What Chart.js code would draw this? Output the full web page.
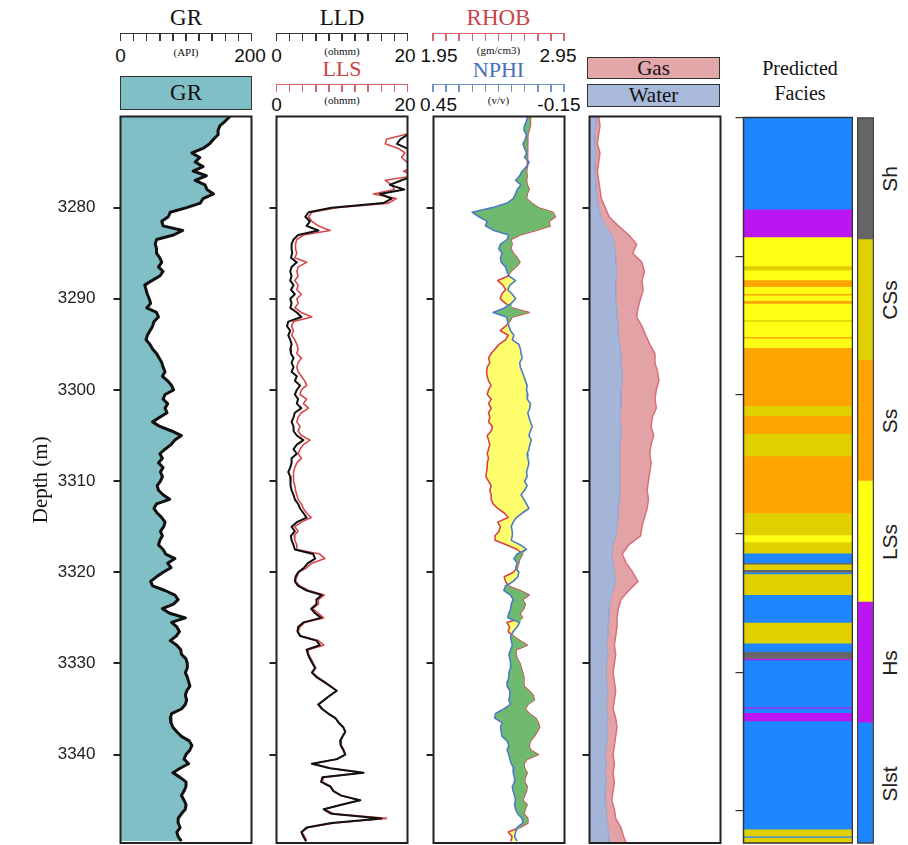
<!DOCTYPE html>
<html>
<head>
<meta charset="utf-8">
<script src="https://cdn.jsdelivr.net/npm/chart.js@4.4.0/dist/chart.umd.min.js"></script>
<style>
  body { margin: 0; background: #fff; }
  #page { position: relative; width: 908px; height: 845px; overflow: hidden; color: #111; }
  #page canvas { position: absolute; }
  .t { position: absolute; transform: translate(-50%, -50%); white-space: nowrap; line-height: 1; }
  .serif { font-family: 'Liberation Serif', serif; }
  .sans { font-family: 'Liberation Sans', sans-serif; }
  .box { position: absolute; box-sizing: border-box; border: 1px solid #333; display: flex; align-items: center; justify-content: center; font-family: 'Liberation Serif', serif; color: #111; }
  .rot { transform: translate(-50%, -50%) rotate(-90deg); }
</style>
</head>
<body>
<div id="page">
  <!-- GR header -->
  <div class="t serif" style="left:186px;top:17px;font-size:23px">GR</div>
  <div class="t sans" style="left:120.5px;top:55px;font-size:19px">0</div>
  <div class="t sans" style="left:250px;top:55px;font-size:19px">200</div>
  <div class="t serif" style="left:186px;top:52px;font-size:11px">(API)</div>
  <div class="box" style="left:120px;top:76px;width:132px;height:34px;background:#80BFC5;font-size:23px">GR</div>

  <!-- LLD / LLS header -->
  <div class="t serif" style="left:342px;top:17px;font-size:23px">LLD</div>
  <div class="t sans" style="left:276.5px;top:55px;font-size:19px">0</div>
  <div class="t sans" style="left:405px;top:55px;font-size:19px">20</div>
  <div class="t serif" style="left:342px;top:51px;font-size:11px">(ohmm)</div>
  <div class="t serif" style="left:342px;top:69px;font-size:22px;color:#CC4149">LLS</div>
  <div class="t sans" style="left:276.5px;top:104px;font-size:19px">0</div>
  <div class="t sans" style="left:405px;top:104px;font-size:19px">20</div>
  <div class="t serif" style="left:342px;top:100px;font-size:11px">(ohmm)</div>

  <!-- RHOB / NPHI header -->
  <div class="t serif" style="left:498.5px;top:17px;font-size:23px;color:#C8434A">RHOB</div>
  <div class="t sans" style="left:439px;top:55px;font-size:19px">1.95</div>
  <div class="t sans" style="left:558px;top:55px;font-size:19px">2.95</div>
  <div class="t serif" style="left:498.5px;top:50px;font-size:11px">(gm/cm3)</div>
  <div class="t serif" style="left:498.5px;top:70px;font-size:22px;color:#4670B8">NPHI</div>
  <div class="t sans" style="left:438.5px;top:104px;font-size:19px">0.45</div>
  <div class="t sans" style="left:559px;top:104px;font-size:19px">-0.15</div>
  <div class="t serif" style="left:498.5px;top:100px;font-size:11px">(v/v)</div>

  <!-- Gas / Water header -->
  <div class="box" style="left:587px;top:57px;width:133px;height:22px;background:#E3A6A9;font-size:21px">Gas</div>
  <div class="box" style="left:587px;top:84px;width:133px;height:23px;background:#A8B9DA;font-size:21px">Water</div>

  <!-- Facies header -->
  <div class="t serif" style="left:800px;top:68px;font-size:20px">Predicted</div>
  <div class="t serif" style="left:800px;top:93px;font-size:20px">Facies</div>

  <canvas id="grChart" width="254" height="735" style="left:0;top:110px"></canvas>
  <canvas id="resChart" width="146" height="735" style="left:264px;top:110px"></canvas>
  <canvas id="denChart" width="146" height="735" style="left:420.5px;top:110px"></canvas>
  <canvas id="fluidChart" width="146" height="735" style="left:576.5px;top:110px"></canvas>
  <canvas id="faciesChart" width="118" height="735" style="left:735px;top:110px"></canvas>
  <canvas id="legendChart" width="17" height="735" style="left:857px;top:110px"></canvas>
</div>

<script>
// depth sampling of the log curves (m)
const DEPTH_TOP = 3270;
const DEPTH_BASE = 3349.7;
const STEP = 0.5;
const depthTicks = [3280, 3290, 3300, 3310, 3320, 3330, 3340];

// GR (API), one value every 0.5 m from 3270
const gr = [
  167,160,152,149,149,142,136,126,109,121,
  114,126,111,131,114,129,132,142,126,122,
  101,76,73,63,65,95,81,55,53,55,
  55,60,63,58,65,60,48,37,39,41,
  44,46,40,55,58,51,49,45,41,39,
  45,49,55,59,63,65,68,64,72,78,
  81,68,65,72,68,71,60,49,60,78,
  93,83,77,68,60,64,58,65,61,64,
  61,56,58,65,75,55,51,56,63,68,
  66,61,64,60,58,65,69,83,72,77,
  65,55,46,49,68,83,88,81,64,75,
  99,78,86,90,85,76,86,92,93,100,
  102,102,99,102,104,106,101,99,101,99,
  93,78,76,77,80,86,93,105,109,106,
  100,97,104,91,80,91,100,100,97,93,
  97,100,99,93,88,88,91,86,88,93
];

// LLD and LLS (ohmm)
const lld = [
  22,22,22,22,20,18.9,18.4,19.9,21,21,
  21,21,21,21,19.1,17.3,19.5,15.8,17.6,16.3,
  8.4,4.9,4.4,5.1,4.6,6.4,3.3,2.6,2.3,2.3,
  2.4,2.2,3.1,2.3,2.1,2.3,2.1,2.6,2.2,2.8,
  2.1,2.3,2.1,3.1,3.8,1.8,1.6,2.1,1.8,2.1,
  2.3,2.1,2.2,2.6,2.3,2.6,2.3,3.1,2.8,3.6,
  3.1,2.8,3.3,3.1,3.8,2.8,2.6,2.3,2.6,2.6,
  3.1,4.1,3.1,2.6,3.1,2.3,2.3,2.1,1.8,2.1,
  2.1,2.2,2.3,2.6,2.8,3.3,3.6,4.1,4.6,3.1,
  2.3,2.8,2.2,2.3,2.6,2.8,5.6,5.9,4.8,4.2,
  3.3,2.9,2.8,3.3,4.6,6.9,6.1,6.1,5.3,5.9,
  6.8,4.1,3.3,3.2,3.6,6.1,6.6,4.6,4.8,5.1,
  5.5,5.9,5.4,6.1,7.2,8.2,9.2,8.2,7.3,6.4,
  7.0,7.9,9.0,9.5,10.2,10.5,10.1,9.7,9.8,10.2,
  10.5,9.2,5.4,8.2,13.3,7.0,6.8,8.2,8.7,9.9,
  12.8,9.9,7.2,8.4,16.0,8.4,4.6,3.8,4.1,4.5
];
const lls = [
  22,22,22,22,19.5,16.8,16.6,18.6,19.6,19.1,
  19.9,21,19.4,21,16.6,17.6,18.0,14.8,18.3,17.1,
  9.2,5.4,4.9,5.4,6.4,8.2,4.1,3.1,2.9,2.9,
  3.1,2.8,4.6,3.3,3.1,3.3,2.8,3.3,3.1,3.8,
  3.1,3.3,2.8,3.8,5.4,2.6,2.3,2.6,2.3,2.8,
  3.1,3.3,3.1,3.8,3.3,3.1,3.3,3.8,4.3,4.6,
  3.8,3.6,4.6,4.1,4.9,3.8,3.3,3.1,3.6,3.3,
  3.8,5.1,4.1,3.6,3.3,3.8,3.1,2.8,2.6,2.6,
  2.6,2.8,2.9,3.1,3.3,3.8,4.1,4.6,5.3,3.8,
  2.8,3.3,2.7,2.8,3.1,3.1,6.6,7.4,5.4,4.6,
  3.4,3.1,2.9,3.6,4.9,7.3,6.4,6.4,5.5,6.4,
  7.2,4.3,3.6,3.3,3.7,6.4,7.2,4.8,4.9,5.3,
  5.6,6.0,5.5,6.3,7.3,8.3,9.2,8.2,7.3,6.3,
  6.9,7.9,9.0,9.5,10.2,10.5,10.1,9.8,9.9,10.3,
  10.5,9.3,5.6,8.2,13.0,7.2,7.0,8.3,8.7,9.9,
  12.5,9.9,7.3,8.7,16.8,8.9,4.8,3.9,4.3,4.6
];

// RHOB (g/cm3) and NPHI (v/v)
const rhob = [
  2.69,2.69,2.69,2.68,2.67,2.665,2.67,2.67,2.665,2.665,
  2.67,2.665,2.66,2.665,2.66,2.665,2.68,2.665,2.66,2.70,
  2.75,2.86,2.88,2.83,2.84,2.73,2.61,2.54,2.55,2.54,
  2.56,2.59,2.61,2.58,2.54,2.52,2.44,2.48,2.50,2.47,
  2.46,2.50,2.55,2.68,2.55,2.53,2.50,2.46,2.52,2.50,
  2.45,2.42,2.39,2.37,2.38,2.36,2.355,2.36,2.37,2.39,
  2.37,2.36,2.39,2.37,2.39,2.37,2.38,2.37,2.40,2.39,
  2.36,2.37,2.38,2.37,2.36,2.37,2.36,2.36,2.355,2.35,
  2.37,2.39,2.38,2.39,2.39,2.405,2.44,2.49,2.52,2.44,
  2.46,2.45,2.42,2.42,2.51,2.59,2.63,2.61,2.60,2.59,
  2.56,2.49,2.50,2.52,2.61,2.68,2.63,2.65,2.64,2.61,
  2.63,2.51,2.53,2.52,2.56,2.61,2.665,2.58,2.58,2.59,
  2.61,2.62,2.63,2.64,2.64,2.64,2.68,2.71,2.72,2.67,
  2.65,2.68,2.73,2.75,2.76,2.74,2.72,2.69,2.68,2.69,
  2.75,2.665,2.64,2.645,2.665,2.65,2.645,2.665,2.66,2.645,
  2.63,2.665,2.65,2.64,2.67,2.67,2.61,2.52,2.55,2.54
];
const nphi = [
  0.018,0.024,0.033,0.036,0.024,0.030,0.040,0.033,0.024,0.033,
  0.012,0.024,0.044,0.055,0.074,0.049,0.067,0.074,0.085,0.113,
  0.181,0.273,0.242,0.204,0.212,0.173,0.105,0.113,0.143,0.151,
  0.136,0.143,0.140,0.120,0.113,0.105,0.074,0.100,0.110,0.089,
  0.074,0.094,0.125,0.177,0.116,0.110,0.105,0.097,0.082,0.089,
  0.059,0.052,0.049,0.044,0.055,0.052,0.044,0.036,0.029,0.021,
  0.024,0.018,0.021,0.006,0.009,0.018,0.013,0.006,-0.002,0.006,
  0.013,0.002,0.009,0.013,0.021,0.018,0.013,0.018,0.024,0.021,
  0.033,0.021,0.033,0.049,0.036,0.024,0.013,0.044,0.070,0.085,
  0.094,0.089,0.089,0.094,0.052,0.024,0.067,0.082,0.067,0.074,
  0.059,0.064,0.085,0.120,0.128,0.097,0.085,0.094,0.097,0.105,
  0.110,0.055,0.067,0.085,0.097,0.094,0.089,0.097,0.105,0.100,
  0.097,0.097,0.105,0.105,0.110,0.113,0.100,0.100,0.105,0.097,
  0.128,0.166,0.170,0.136,0.143,0.140,0.136,0.113,0.105,0.113,
  0.105,0.100,0.094,0.082,0.085,0.079,0.079,0.089,0.085,0.079,
  0.074,0.079,0.074,0.064,0.044,0.040,0.067,0.074,0.079,0.067
];

// Gas / Water track, one value every 1 m from 3270 (fraction of track)
const waterEdge = [
  .05,.05,.04,.04,.05,.04,.04,.05,.05,.06,
  .07,.09,.12,.17,.19,.20,.20,.21,.20,.20,
  .20,.21,.21,.22,.22,.23,.24,.24,.25,.25,
  .24,.24,.24,.23,.24,.24,.23,.23,.23,.23,
  .23,.23,.23,.22,.22,.21,.20,.18,.17,.18,
  .19,.20,.18,.16,.15,.15,.14,.14,.13,.14,
  .13,.13,.13,.14,.13,.13,.14,.13,.14,.13,
  .12,.13,.12,.13,.12,.12,.13,.13,.14,.15,.15
];
const gasEdge = [
  .07,.08,.07,.06,.08,.07,.06,.07,.08,.09,
  .12,.15,.22,.30,.36,.33,.40,.42,.40,.41,
  .39,.37,.36,.40,.43,.46,.50,.50,.52,.53,
  .51,.50,.51,.48,.47,.49,.47,.46,.47,.46,
  .45,.44,.45,.44,.42,.40,.39,.30,.25,.28,
  .33,.37,.30,.24,.22,.21,.21,.20,.19,.20,
  .19,.18,.19,.20,.19,.18,.20,.21,.20,.19,
  .18,.19,.18,.19,.18,.17,.19,.20,.24,.26,.29
];

// Predicted facies intervals (own depth scale of the facies column)
const faciesTop = [
  3270.0,3276.6,3278.6,3280.7,3281.0,3281.7,3282.2,3282.7,3282.8,3283.2,
  3283.4,3284.6,3284.7,3285.8,3285.9,3286.6,3290.8,3291.5,3292.8,3294.4,
  3298.5,3300.1,3300.6,3301.4,3302.1,3302.2,3302.6,3302.8,3302.9,3304.4,
  3306.4,3307.9,3308.5,3309.0,3309.1,3312.5,3312.6,3312.9,3313.5,3321.3,
  3321.8,3321.9
];
const faciesCode = [
  'Slst','Hs','LSs','CSs','LSs','Ss','LSs','Ss','LSs','Ss',
  'LSs','CSs','LSs','Ss','LSs','Ss','CSs','Ss','CSs','Ss',
  'CSs','LSs','CSs','Slst','Sh','CSs','Sh','Slst','CSs','Slst',
  'CSs','Slst','Sh','Hs','Slst','Hs','Slst','Hs','Slst','CSs',
  'Slst','CSs'
];
const faciesBase = 3322.3;
const faciesTicks = [3270, 3280, 3290, 3300, 3310, 3320];
const faciesLegend = ['Sh', 'CSs', 'Ss', 'LSs', 'Hs', 'Slst'];
const faciesColor = { Sh: '#666666', CSs: '#E0D000', Ss: '#FFA500', LSs: '#FFFF14', Hs: '#BB16F2', Slst: '#1E87FF' };

// header scale bars
const rulers = [
  { left: 120.5, top: 33, color: '#333' },
  { left: 276.5, top: 33, color: '#333' },
  { left: 276.5, top: 84, color: '#D9646B' },
  { left: 433, top: 33, color: '#D9646B' },
  { left: 433, top: 84, color: '#6F93CF' }
];
const page = document.getElementById('page');
rulers.forEach(r => {
  const bar = document.createElement('div');
  bar.style.cssText = `position:absolute;left:${r.left}px;top:${r.top}px;width:131px;height:0;border-top:1.5px solid ${r.color}`;
  for (let i = 0; i <= 10; i++) {
    const tk = document.createElement('div');
    tk.style.cssText = `position:absolute;left:${i * 13.1 - 0.75}px;top:-1px;width:1.5px;height:8px;background:${r.color}`;
    bar.appendChild(tk);
  }
  page.appendChild(bar);
});
faciesLegend.forEach((name, i) => {
  const d = document.createElement('div');
  d.className = 't sans rot';
  d.style.cssText = `left:889px;top:${178.5 + i * 121}px;font-size:21px;color:#222`;
  d.textContent = name;
  page.appendChild(d);
});

// frame around each plot area
Chart.register({
  id: 'box',
  afterDraw(chart, args, opts) {
    const a = chart.chartArea, ctx = chart.ctx;
    ctx.save();
    ctx.strokeStyle = opts.color || '#222';
    ctx.lineWidth = opts.width || 2;
    ctx.strokeRect(a.left, a.top, a.right - a.left, a.bottom - a.top);
    ctx.restore();
  }
});

const depth = gr.map((_, i) => DEPTH_TOP + i * STEP);
const depth1m = waterEdge.map((_, i) => DEPTH_TOP + i);
const pts = (vals, d) => vals.map((v, i) => ({ x: v, y: d[i] }));

function depthAxis(width, labels, extra) {
  return Object.assign({
    type: 'linear', reverse: true, min: DEPTH_TOP, max: DEPTH_BASE,
    afterBuildTicks: s => { s.ticks = depthTicks.map(v => ({ value: v })); },
    afterFit: s => { s.width = width; s.paddingTop = 0; s.paddingBottom = 0; },
    ticks: { display: labels, color: '#222', padding: 18, font: { family: 'Liberation Sans', size: 17 },
             callback: v => String(v) },
    grid: { drawOnChartArea: false, drawTicks: true, tickLength: 7, color: '#222', lineWidth: 2 },
    border: { display: false }
  }, extra || {});
}

function trackOptions(xScales, yAxis) {
  return {
    responsive: false,
    animation: false,
    indexAxis: 'y',
    layout: { padding: { top: 6.5, bottom: 2, right: 2.5, left: 0 } },
    plugins: { legend: { display: false }, tooltip: { enabled: false }, box: { width: 2, color: '#222' } },
    elements: { point: { radius: 0 }, line: { tension: 0, borderJoinStyle: 'round' } },
    datasets: { line: { clip: 0 } },
    scales: Object.assign({ y: yAxis }, xScales)
  };
}

// Track 1: GR
new Chart(document.getElementById('grChart'), {
  type: 'line',
  data: {
    datasets: [{
      data: pts(gr, depth), borderColor: '#111', borderWidth: 3,
      backgroundColor: '#80BFC5', fill: { value: 0 }
    }]
  },
  options: trackOptions(
    { x: { type: 'linear', min: 0, max: 200, display: false } },
    depthAxis(120.5, true, {
      title: { display: true, text: 'Depth (m)', color: '#111', padding: { top: 29, bottom: 0 },
               font: { family: 'Liberation Serif', size: 21 } }
    })
  )
});

// Track 2: LLD / LLS
new Chart(document.getElementById('resChart'), {
  type: 'line',
  data: {
    datasets: [
      { data: pts(lld, depth), borderColor: '#111', borderWidth: 2, fill: false },
      { data: pts(lls, depth), borderColor: '#D9474D', borderWidth: 1.6, fill: false }
    ]
  },
  options: trackOptions({ x: { type: 'linear', min: 0, max: 20, display: false } }, depthAxis(12.5, false))
});

// Track 3: RHOB / NPHI with separation fill
const rhobFromNphi = nphi.map(v => 1.95 + (0.45 - v) / 0.6);
const envelope = rhob.map((v, i) => Math.max(v, rhobFromNphi[i]));
new Chart(document.getElementById('denChart'), {
  type: 'line',
  data: {
    datasets: [
      { data: pts(envelope, depth), xAxisID: 'x', borderColor: 'rgba(0,0,0,0)', borderWidth: 1, fill: false },
      { data: pts(nphi, depth), xAxisID: 'xn', borderColor: '#4D7CC4', borderWidth: 1.6, backgroundColor: '#6FBA6F', fill: 0 },
      { data: pts(rhob, depth), xAxisID: 'x', borderColor: '#D8424B', borderWidth: 1.6, backgroundColor: '#FFFF6E', fill: 0 }
    ]
  },
  options: trackOptions({
    x: { type: 'linear', min: 1.95, max: 2.95, display: false },
    xn: { type: 'linear', axis: 'x', min: -0.15, max: 0.45, reverse: true, display: false }
  }, depthAxis(12.5, false))
});

// Track 4: Gas / Water
new Chart(document.getElementById('fluidChart'), {
  type: 'line',
  data: {
    datasets: [
      { data: pts(waterEdge, depth1m), borderColor: '#93A6CE', borderWidth: 1, backgroundColor: '#A4B5D7', fill: { value: 0 } },
      { data: pts(gasEdge, depth1m), borderColor: '#D86F7A', borderWidth: 1.5, backgroundColor: '#E2A2A6', fill: 0 }
    ]
  },
  options: trackOptions({ x: { type: 'linear', min: 0, max: 1, display: false } }, depthAxis(12.5, false))
});

// Predicted facies column
new Chart(document.getElementById('faciesChart'), {
  type: 'bar',
  data: {
    labels: ['Facies'],
    datasets: faciesTop.map((top, i) => ({
      data: [[top, i + 1 < faciesTop.length ? faciesTop[i + 1] : faciesBase]],
      backgroundColor: faciesColor[faciesCode[i]], borderWidth: 0
    }))
  },
  options: {
    responsive: false, animation: false,
    layout: { padding: { top: 7.5, bottom: 2, right: 0.5, left: 0 } },
    datasets: { bar: { grouped: false, barPercentage: 1, categoryPercentage: 1 } },
    plugins: { legend: { display: false }, tooltip: { enabled: false }, box: { width: 1.5, color: '#333' } },
    scales: {
      x: { display: false },
      y: {
        type: 'linear', reverse: true, min: DEPTH_TOP, max: faciesBase,
        afterBuildTicks: s => { s.ticks = faciesTicks.map(v => ({ value: v })); },
        afterFit: s => { s.width = 8.5; s.paddingTop = 0; s.paddingBottom = 0; },
        ticks: { display: false },
        grid: { drawOnChartArea: false, drawTicks: true, tickLength: 8, color: '#333', lineWidth: 1.2 },
        border: { display: false }
      }
    }
  }
});

// Facies legend bar
new Chart(document.getElementById('legendChart'), {
  type: 'bar',
  data: {
    labels: ['Legend'],
    datasets: faciesLegend.map((name, i) => ({
      data: [[i, i + 1]], backgroundColor: faciesColor[name], borderWidth: 0
    }))
  },
  options: {
    responsive: false, animation: false,
    layout: { padding: { top: 8, bottom: 2, right: 0.5, left: 0.5 } },
    datasets: { bar: { grouped: false, barPercentage: 1, categoryPercentage: 1 } },
    plugins: { legend: { display: false }, tooltip: { enabled: false }, box: { width: 1.5, color: '#444' } },
    scales: {
      x: { display: false },
      y: { type: 'linear', reverse: true, min: 0, max: faciesLegend.length, display: false }
    }
  }
});
</script>
</body>
</html>
